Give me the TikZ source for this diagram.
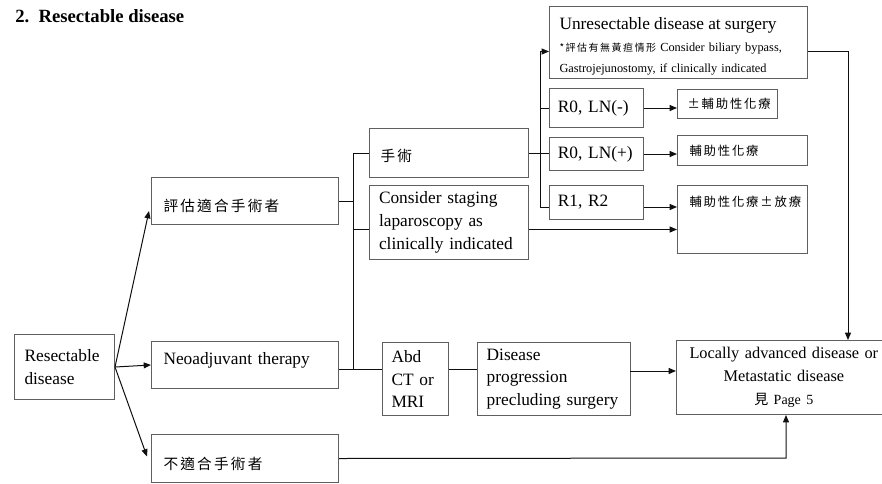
\documentclass[tikz,border=0pt]{standalone}
\usepackage{fontspec}
\setmainfont{Liberation Serif}
\newfontfamily\cjk{Noto Sans CJK TC}[LetterSpace=15]
\definecolor{boxgray}{RGB}{95, 95, 95}
\definecolor{linkblack}{RGB}{15, 15, 15}
\usetikzlibrary{shapes, arrows.meta, positioning, calc}

\tikzset{
  box/.style={draw=boxgray, line width=0.75pt, anchor=north west, inner xsep=0pt, inner ysep=2pt,
    align=left, font=\fontsize{13}{17}\selectfont},
  cjkbig/.style={font=\cjk\fontsize{11}{13}\selectfont},
  cjksmall/.style={font=\cjk\fontsize{9.25}{11}\selectfont},
  link/.style={draw=linkblack, line width=0.75pt},
  arr/.style={link, -{Triangle[length=5.5pt, width=4.5pt]}}
}

\begin{document}
\begin{tikzpicture}[x=0.75pt, y=-0.75pt]
  \useasboundingbox (0,0) rectangle (882,483);
  \clip (0,0) rectangle (882,483);

  % Title
  \node[font=\fontsize{14}{16}\selectfont\bfseries, anchor=base west, inner sep=0pt] (title) at (15,22) {2.\hspace{7pt}Resectable disease};

  % === Left column ===
  \node[box, minimum width=75pt, minimum height=48.75pt, text width=60pt] (res) at (14,334) {Resectable\\disease};
  \node[box, cjkbig, minimum width=140.25pt, minimum height=35.25pt, text width=122.25pt, text height=17pt, text depth=2pt] (eval) at (151,177) {評估適合手術者};
  \node[box, minimum width=140.25pt, minimum height=35.25pt, text width=122.25pt, text height=9pt, text depth=10pt] (neo) at (151,341) {Neoadjuvant therapy};
  \node[box, cjkbig, minimum width=140.25pt, minimum height=36pt, text width=122.25pt, text height=18pt, text depth=2pt] (unfit) at (151,434) {不適合手術者};

  % === Surgery branch ===
  \node[box, cjkbig, minimum width=119.25pt, minimum height=36.75pt, text width=102.75pt, text height=14pt, text depth=2pt] (surg) at (369,128) {手術};
  \node[box, minimum width=119.25pt, minimum height=55.5pt, text width=105pt] (lap) at (369,185) {Consider staging\\laparoscopy as\\clinically indicated};

  % Surgical results
  \node[box, minimum width=193.5pt, minimum height=54pt, text width=178.5pt, font=\fontsize{9.25}{16}\selectfont] (unres) at (549,6)
    {{\fontsize{13}{16}\selectfont\rule{0pt}{15pt}Unresectable disease at surgery}\\{\cjk\fontsize{7.5}{16}\selectfont *評估有無黃疸情形} Consider biliary bypass,\\Gastrojejunostomy, if clinically indicated};
  \node[box, minimum width=70.5pt, minimum height=29.25pt, text width=58pt] (r0n) at (549,88) {R0, LN(-)};
  \node[box, minimum width=70.5pt, minimum height=24.75pt, text width=58pt] (r0p) at (549,137) {R0, LN(+)};
  \node[box, minimum width=70.5pt, minimum height=25.5pt, text width=58pt] (r12) at (549,185) {R1, R2};

  % Adjuvant treatment
  \node[box, cjksmall, minimum width=75pt, minimum height=21.75pt, text width=60pt] (adjopt) at (677,89) {±輔助性化療};
  \node[box, cjksmall, minimum width=97.5pt, minimum height=22.5pt, text width=79.5pt] (adj) at (677,135) {輔助性化療};
  \node[box, cjksmall, minimum width=97.5pt, minimum height=51pt, text width=79.5pt, text height=14pt, text depth=33pt] (adjrt) at (677,185) {輔助性化療±放療};

  % === Neoadjuvant branch ===
  \node[box, minimum width=49.5pt, minimum height=54.75pt, text width=36pt] (abd) at (382,342) {Abd\\CT or\\MRI};
  \node[box, minimum width=114.75pt, minimum height=54.75pt, text width=101pt] (prog) at (477,342) {Disease\\progression\\precluding surgery};
  \node[box, align=center, minimum width=161pt, minimum height=55.5pt, text width=158pt, font=\fontsize{12.25}{17}\selectfont] (meta) at (676,340)
    {Locally advanced disease or\\Metastatic disease\\{\fontsize{10.5}{12}\selectfont{\cjk 見} Page 5}};

  % Junction points
  \coordinate (busL) at (353,369);
  \coordinate (busR) at (540,207);
  \coordinate (lapout) at ($(lap.west)+(0,7)$);
  \coordinate (unresin) at ($(unres.west)+(0,9)$);
  \coordinate (progout) at (630,371);
  \coordinate (drop) at (848,51);
  \coordinate (rise) at (786,458);

  % Connectors from the start box
  \draw[arr] (res.east) -- ($(eval.south west)+(-2,-14)$);
  \draw[arr] (res.east) -- (neo.west);
  \draw[arr] (res.east) -- ($(unfit.west)+(-4,-2)$);

  % Left bus
  \draw[link] (busL |- surg.west) -- (busL);
  \draw[link] (eval.east) -- (eval.east -| busL);
  \draw[link] (busL |- surg.west) -- (surg.west);
  \draw[link] (busL |- lapout) -- (lapout);
  \draw[link] (neo.east |- busL) -- (abd.west |- busL);
  \draw[link] (abd.east |- busL) -- (prog.west |- busL);

  % Right bus
  \draw[arr] (busR) -- (busR |- unresin) -- (unresin);
  \draw[link] (surg.east) -- (r0p.west |- surg.east);
  \draw[link] (busR |- r0n.west) -- (r0n.west);
  \draw[link] (busR) -- (r12.west |- busR);

  % To adjuvant boxes
  \draw[arr] (r0n.east) -- (adjopt.west |- r0n.east);
  \draw[arr] (r0p.east) -- (adj.west |- r0p.east);
  \draw[arr] (r12.east |- busR) -- (adjrt.west |- busR);
  \draw[arr] (lap.east |- lapout) -- (adjrt.west |- lapout);

  % To the final box
  \draw[arr] (progout) -- (meta.west |- progout);
  \draw[arr] (unres.east |- drop) -- (drop) -- (drop |- meta.north);
  \draw[arr] (unfit.east) -- (rise) -- (rise |- meta.south);
\end{tikzpicture}
\end{document}
